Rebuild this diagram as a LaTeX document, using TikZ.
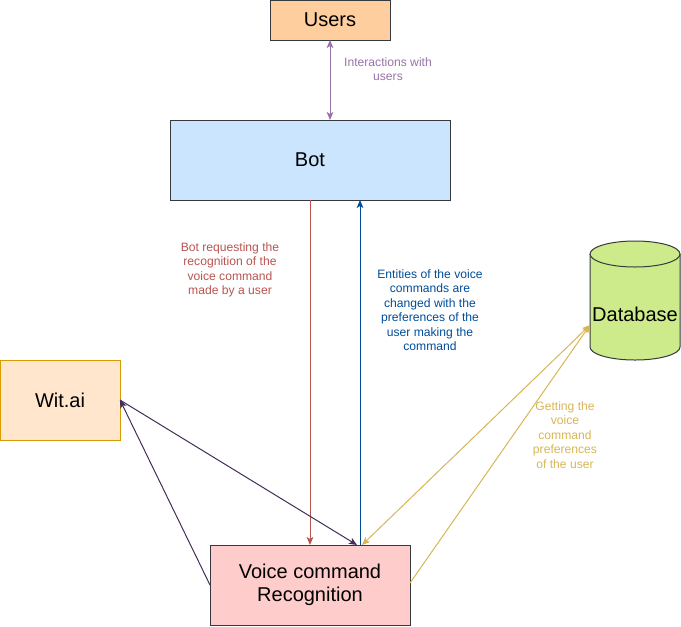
\documentclass[tikz,border=0pt]{standalone}
\usepackage{fontspec}
\setmainfont{Liberation Sans}
\usetikzlibrary{calc,arrows.meta}
\definecolor{edgegray}{HTML}{36393D}
\definecolor{userfill}{HTML}{FFCE9F}
\definecolor{botfill}{HTML}{CCE5FF}
\definecolor{witfill}{HTML}{FFE6CC}
\definecolor{witedge}{HTML}{D79B00}
\definecolor{voicefill}{HTML}{FFCCCC}
\definecolor{dbfill}{HTML}{CDEB8B}
\definecolor{purplelink}{HTML}{9673A6}
\definecolor{redlink}{HTML}{B85450}
\definecolor{bluelink}{HTML}{004C99}
\definecolor{goldlink}{HTML}{D6B656}
\definecolor{navylink}{HTML}{432D57}
\tikzset{
  box/.style={draw=edgegray, line width=0.75pt, inner sep=0pt, outer sep=0pt, align=center,
    font=\fontsize{15}{17.25}\selectfont},
  link/.style={line width=0.75pt, -{Stealth[length=6pt,width=5pt,inset=1.5pt]}},
  twolink/.style={line width=0.75pt, {Stealth[length=6pt,width=5pt,inset=1.5pt]}-{Stealth[length=6pt,width=5pt,inset=1.5pt]}},
  note/.style={align=center, inner sep=0pt, font=\fontsize{9.1}{10.9}\selectfont}
}

\begin{document}
\begin{tikzpicture}[x=0.75pt, y=-0.75pt]
			%%%%% START %%%%%
			\useasboundingbox (0,0) rectangle (681,626);
			
			\node[box, fill=userfill, minimum width=90pt, minimum height=30pt] (users) at (330,20) {Users};
			\node[box, fill=botfill, minimum width=210pt, minimum height=60pt] (bot) at (310,160) {Bot};
			\node[box, fill=witfill, draw=witedge, minimum width=90pt, minimum height=60pt] (wit) at (60,400) {Wit.ai};
			\node[box, fill=voicefill, minimum width=150pt, minimum height=60pt] (voice) at (310,585) {Voice command\\Recognition};
			
			% database cylinder
			\draw[fill=dbfill, draw=edgegray, line width=0.75pt] (590,254) -- (590,347) arc (180:0:45 and 13) -- (680,254);
			\draw[fill=dbfill, draw=edgegray, line width=0.75pt] (635,254) ellipse (45 and 13);
			\node[font=\fontsize{15}{17.25}\selectfont, inner sep=0pt] (db) at (635,314) {Database};
			\coordinate (dbin) at (590,325);
			
			% connectors
			\draw[twolink, purplelink] (users.south) -- (users.south |- bot.north);
			\draw[link, redlink] (bot.south) -- (voice.north);
			\draw[link, bluelink] ($(voice.north)+(50,0)$) -- ($(bot.south)+(50,0)$);
			\draw[link, navylink] (voice.west) -- (wit.east);
			\draw[link, navylink] (wit.east) -- ($(voice.north)+(47,0)$);
			\draw[twolink, goldlink] (dbin) -- ($(voice.north)+(52,0)$);
			\draw[link, goldlink] ($(voice.east)+(0,-2)$) -- (dbin);
			
			% labels
			\node[note, purplelink] (lblusers) at (388,69) {Interactions with\\users};
			\node[note, redlink] (lblreq) at (230,270) {Bot requesting the\\recognition of the\\voice command\\made by a user};
			\node[note, bluelink] (lblent) at (430,310) {Entities of the voice\\commands are\\changed with the\\preferences of the\\user making the\\command};
			\node[note, goldlink] (lblget) at (565,435) {Getting the\\voice\\command\\preferences\\of the user};
			
			%%%%% END %%%%%
\end{tikzpicture}
\end{document}
